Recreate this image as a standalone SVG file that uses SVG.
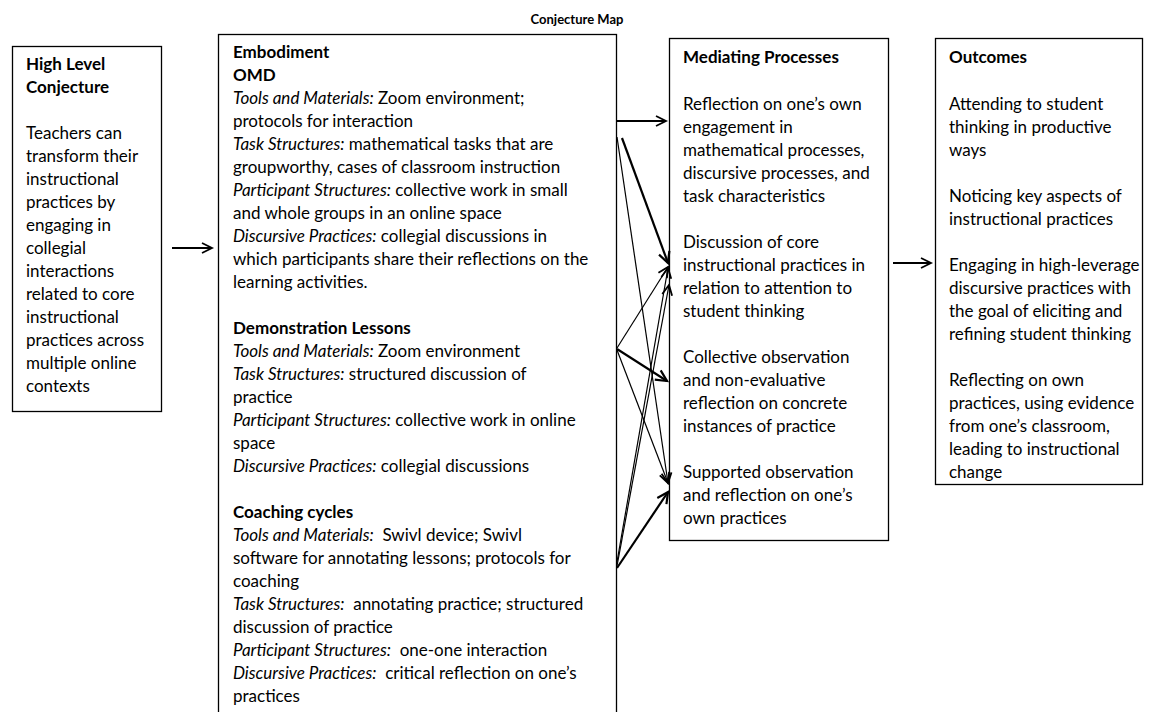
<svg xmlns="http://www.w3.org/2000/svg" width="1154" height="712" viewBox="0 0 1154 712">
<style>
  text { font-family: Lato, "Liberation Sans", sans-serif; font-size: 17px; fill: #000; }
  .b { font-weight: bold; }
  .i { font-style: italic; }
  .title { font-size: 13px; font-weight: bold; }
  .box { fill: #fff; stroke: #000; stroke-width: 1.3; }
  .thin { stroke: #000; stroke-width: 1.2; fill: none; }
  .thick { stroke: #000; stroke-width: 2.2; fill: none; }
</style>
<defs>
  <marker id="ah" markerUnits="userSpaceOnUse" markerWidth="14" markerHeight="14" refX="11" refY="6" orient="auto">
    <path d="M1,1 L11,6 L1,11" fill="none" stroke="#000" stroke-width="1.8"/>
  </marker>
  <marker id="ahb" markerUnits="userSpaceOnUse" markerWidth="16" markerHeight="16" refX="12" refY="7" orient="auto">
    <path d="M1,1.5 L12,7 L1,12.5" fill="none" stroke="#000" stroke-width="2.2"/>
  </marker>
</defs>
<rect width="1154" height="712" fill="#fff"/>
<text class="title" x="577" y="24" text-anchor="middle">Conjecture Map</text>

<g id="high-level-conjecture">
  <rect class="box" x="12.5" y="46.5" width="149" height="365"/>
  <text class="b" x="26" y="69.5">High Level</text>
  <text class="b" x="26" y="92.5">Conjecture</text>
  <text x="26" y="138.5">Teachers can</text>
  <text x="26" y="161.5">transform their</text>
  <text x="26" y="184.5">instructional</text>
  <text x="26" y="207.5">practices by</text>
  <text x="26" y="230.5">engaging in</text>
  <text x="26" y="253.5">collegial</text>
  <text x="26" y="276.5">interactions</text>
  <text x="26" y="299.5">related to core</text>
  <text x="26" y="322.5">instructional</text>
  <text x="26" y="345.5">practices across</text>
  <text x="26" y="368.5">multiple online</text>
  <text x="26" y="391.5">contexts</text>
</g>

<g id="embodiment">
  <rect class="box" x="218.5" y="34.5" width="398" height="690"/>
  <text class="b" x="233" y="58">Embodiment</text>
  <text class="b" x="233" y="81">OMD</text>
  <text x="233" y="104"><tspan class="i">Tools and Materials:</tspan> Zoom environment;</text>
  <text x="233" y="127">protocols for interaction</text>
  <text x="233" y="150"><tspan class="i">Task Structures:</tspan> mathematical tasks that are</text>
  <text x="233" y="173">groupworthy, cases of classroom instruction</text>
  <text x="233" y="196"><tspan class="i">Participant Structures:</tspan> collective work in small</text>
  <text x="233" y="219">and whole groups in an online space</text>
  <text x="233" y="242"><tspan class="i">Discursive Practices:</tspan> collegial discussions in</text>
  <text x="233" y="265">which participants share their reflections on the</text>
  <text x="233" y="288">learning activities.</text>
  <text class="b" x="233" y="334">Demonstration Lessons</text>
  <text x="233" y="357"><tspan class="i">Tools and Materials:</tspan> Zoom environment</text>
  <text x="233" y="380"><tspan class="i">Task Structures:</tspan> structured discussion of</text>
  <text x="233" y="403">practice</text>
  <text x="233" y="426"><tspan class="i">Participant Structures:</tspan> collective work in online</text>
  <text x="233" y="449">space</text>
  <text x="233" y="472"><tspan class="i">Discursive Practices:</tspan> collegial discussions</text>
  <text class="b" x="233" y="518">Coaching cycles</text>
  <text x="233" y="541" xml:space="preserve"><tspan class="i">Tools and Materials:</tspan>  Swivl device; Swivl</text>
  <text x="233" y="564">software for annotating lessons; protocols for</text>
  <text x="233" y="587">coaching</text>
  <text x="233" y="610" xml:space="preserve"><tspan class="i">Task Structures:</tspan>  annotating practice; structured</text>
  <text x="233" y="633">discussion of practice</text>
  <text x="233" y="656" xml:space="preserve"><tspan class="i">Participant Structures:</tspan>  one-one interaction</text>
  <text x="233" y="679" xml:space="preserve"><tspan class="i">Discursive Practices:</tspan>  critical reflection on one’s</text>
  <text x="233" y="702">practices</text>
</g>

<g id="mediating-processes">
  <rect class="box" x="669.5" y="38.5" width="219" height="502"/>
  <text class="b" x="683" y="63">Mediating Processes</text>
  <text x="683" y="109.5">Reflection on one’s own</text>
  <text x="683" y="132.5">engagement in</text>
  <text x="683" y="155.5">mathematical processes,</text>
  <text x="683" y="178.5">discursive processes, and</text>
  <text x="683" y="201.5">task characteristics</text>
  <text x="683" y="247.5">Discussion of core</text>
  <text x="683" y="270.5">instructional practices in</text>
  <text x="683" y="293.5">relation to attention to</text>
  <text x="683" y="316.5">student thinking</text>
  <text x="683" y="362.5">Collective observation</text>
  <text x="683" y="385.5">and non-evaluative</text>
  <text x="683" y="408.5">reflection on concrete</text>
  <text x="683" y="431.5">instances of practice</text>
  <text x="683" y="477.5">Supported observation</text>
  <text x="683" y="500.5">and reflection on one’s</text>
  <text x="683" y="523.5">own practices</text>
</g>

<g id="outcomes">
  <rect class="box" x="935.5" y="38.5" width="207" height="446"/>
  <text class="b" x="949" y="63">Outcomes</text>
  <text x="949" y="109.5">Attending to student</text>
  <text x="949" y="132.5">thinking in productive</text>
  <text x="949" y="155.5">ways</text>
  <text x="949" y="201.5">Noticing key aspects of</text>
  <text x="949" y="224.5">instructional practices</text>
  <text x="949" y="270.5">Engaging in high-leverage</text>
  <text x="949" y="293.5">discursive practices with</text>
  <text x="949" y="316.5">the goal of eliciting and</text>
  <text x="949" y="339.5">refining student thinking</text>
  <text x="949" y="385.5">Reflecting on own</text>
  <text x="949" y="408.5">practices, using evidence</text>
  <text x="949" y="431.5">from one’s classroom,</text>
  <text x="949" y="454.5">leading to instructional</text>
  <text x="949" y="477.5">change</text>
</g>

<g id="connectors">
  <line class="thick" x1="172" y1="248" x2="212" y2="248" marker-end="url(#ah)"/>
  <line class="thick" x1="617" y1="121" x2="666" y2="121" marker-end="url(#ah)"/>
  <line class="thick" x1="622" y1="138" x2="668" y2="263" marker-end="url(#ahb)"/>
  <line class="thin" x1="617" y1="137" x2="668" y2="483" marker-end="url(#ah)"/>
  <line class="thin" x1="617" y1="348" x2="668" y2="267" marker-end="url(#ah)"/>
  <line class="thick" x1="617" y1="349" x2="667" y2="381" marker-end="url(#ahb)"/>
  <line class="thin" x1="617" y1="350" x2="668" y2="483" marker-end="url(#ah)"/>
  <line class="thin" x1="617" y1="562" x2="668" y2="268" marker-end="url(#ah)"/>
  <line class="thin" x1="617" y1="566" x2="669" y2="285" marker-end="url(#ah)"/>
  <line class="thick" x1="617" y1="568" x2="668" y2="492" marker-end="url(#ahb)"/>
  <line class="thick" x1="893" y1="263" x2="931" y2="263" marker-end="url(#ah)"/>
</g>
</svg>
